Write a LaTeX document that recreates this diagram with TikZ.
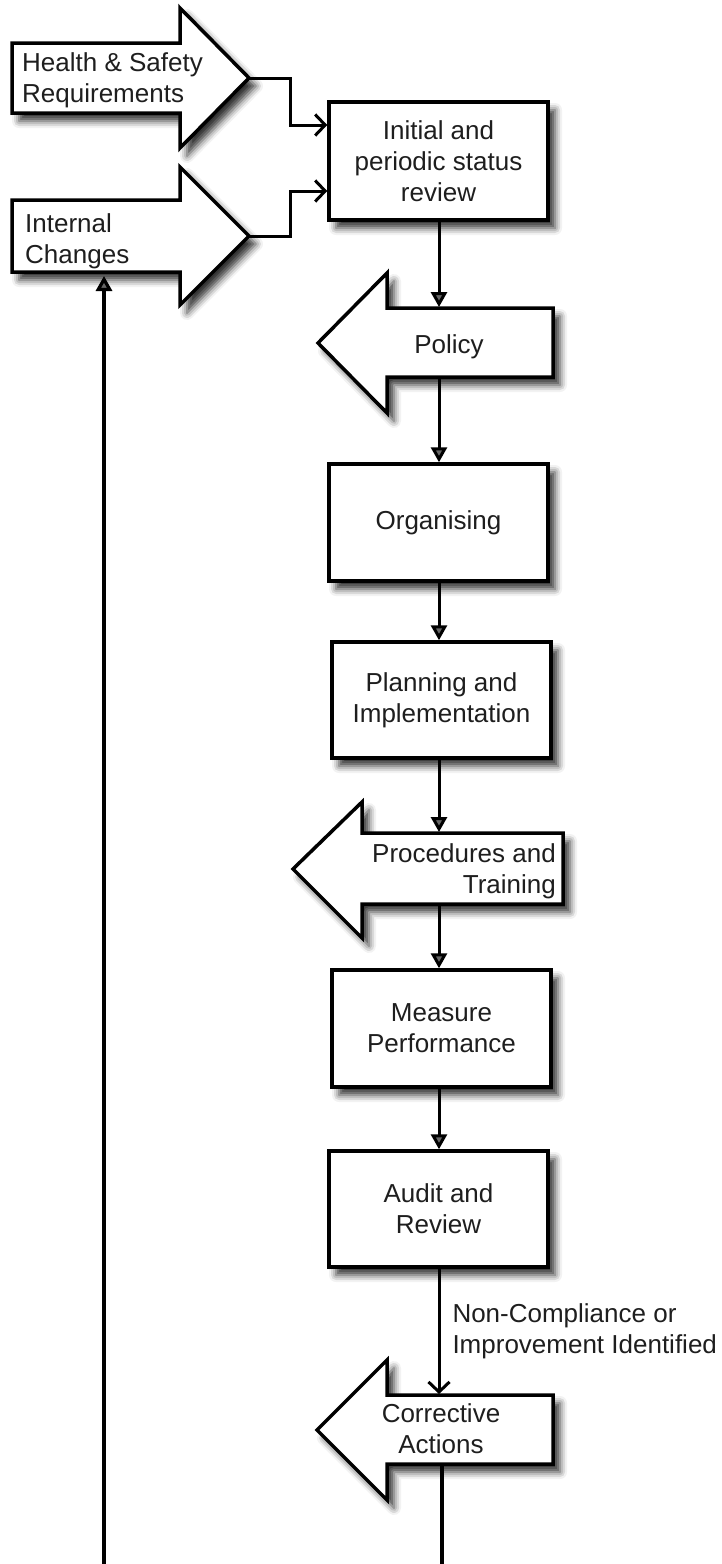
\documentclass[tikz,border=0pt]{standalone}
\usepackage{fontspec}
\setmainfont{Liberation Sans}
\usetikzlibrary{arrows.meta,shadows.blur}
\definecolor{textgray}{HTML}{1E1E1E}
\newcommand\diagfont{\fontsize{26pt}{31pt}\selectfont}
\tikzset{
  softshade/.style={blur shadow={shadow xshift=7pt, shadow yshift=-8pt, shadow blur radius=7pt, shadow opacity=80}},
  box/.style={draw=black, line width=3.5pt, fill=white, softshade, minimum width=219pt, inner sep=0pt, align=center, font=\diagfont, text=textgray},
  bigarrow/.style={draw=black, line width=3.5pt, fill=white, line join=miter, softshade},
  txt/.style={font=\diagfont, text=textgray, inner sep=0pt},
  flow/.style={line width=3pt, -{Triangle[length=15pt,width=16pt]}},
  feed/.style={line width=3pt, -{Straight Barb[length=10pt,width=21pt]}},
  loopline/.style={line width=3.2pt, -{Triangle[length=15pt,width=16pt]}}
}
\begin{document}
\begin{tikzpicture}[x=1pt,y=-1pt]
\useasboundingbox (0,0) rectangle (721,1564);

% input arrows
\draw[bigarrow] (12,43) -- (180,43) -- (180,8) -- (249,78) -- (180,148) -- (180,113) -- (12,113) -- cycle;
\node[txt, anchor=west, align=left] (hs) at (22,80) {Health \& Safety\\Requirements};
\coordinate (hstip) at (249,78);

\draw[bigarrow] (12,200) -- (180,200) -- (180,167) -- (249,236) -- (180,305) -- (180,272) -- (12,272) -- cycle;
\node[txt, anchor=west, align=left] (ic) at (25,241) {Internal\\Changes};
\coordinate (ictip) at (249,236);
\coordinate (icbot) at (104,276);

% boxes
\node[box, minimum height=118pt] (init) at (438.5,161) {Initial and\\periodic status\\review};
\node[box, minimum height=117pt] (org) at (438.5,522.5) {Organising};
\node[box, minimum height=116pt] (plan) at (441.5,700) {Planning and\\Implementation};
\node[box, minimum height=117pt] (meas) at (441.5,1028.5) {Measure\\Performance};
\node[box, minimum height=116pt] (aud) at (438.5,1209) {Audit and\\Review};

% left arrows
\draw[bigarrow] (553,308) -- (387,308) -- (387,273) -- (318,343) -- (387,413) -- (387,377) -- (553,377) -- cycle;
\node[txt] (pol) at (449,347) {Policy};
\coordinate (poltop) at (439,307);
\coordinate (polbot) at (439,377);

\draw[bigarrow] (563,833) -- (362,833) -- (362,802) -- (293,869) -- (362,938) -- (362,904) -- (563,904) -- cycle;
\node[txt, anchor=east, align=right] (proc) at (556,871) {Procedures and\\Training};
\coordinate (proctop) at (439,832);
\coordinate (procbot) at (439,904);

\draw[bigarrow] (553,1395) -- (387,1395) -- (387,1360) -- (317,1430) -- (387,1500) -- (387,1464) -- (553,1464) -- cycle;
\node[txt, align=center] (cor) at (441,1429) {Corrective\\Actions};
\coordinate (cortop) at (439,1394);
\coordinate (corout) at (442,1464);
\coordinate (loopcorner) at (104,1566.5);

\coordinate (spine) at (439,0);

% connectors
\draw[feed] (hstip) -- ++(41,0) |- ([yshift=36pt]init.west);
\draw[feed] (ictip) -- ++(41,0) |- ([yshift=-30pt]init.west);
\draw[flow] (spine |- init.south) -- (poltop);
\draw[flow] (polbot) -- (spine |- org.north);
\draw[flow] (spine |- org.south) -- (spine |- plan.north);
\draw[flow] (spine |- plan.south) -- (proctop);
\draw[flow] (procbot) -- (spine |- meas.north);
\draw[flow] (spine |- meas.south) -- (spine |- aud.north);
\draw[feed] (spine |- aud.south) -- (cortop)
  node[pos=0.5, txt, anchor=west, align=left, xshift=12pt] (nc) {Non-Compliance or\\Improvement Identified};
\draw[loopline] (corout) |- (loopcorner) -- (icbot);
\end{tikzpicture}
\end{document}
